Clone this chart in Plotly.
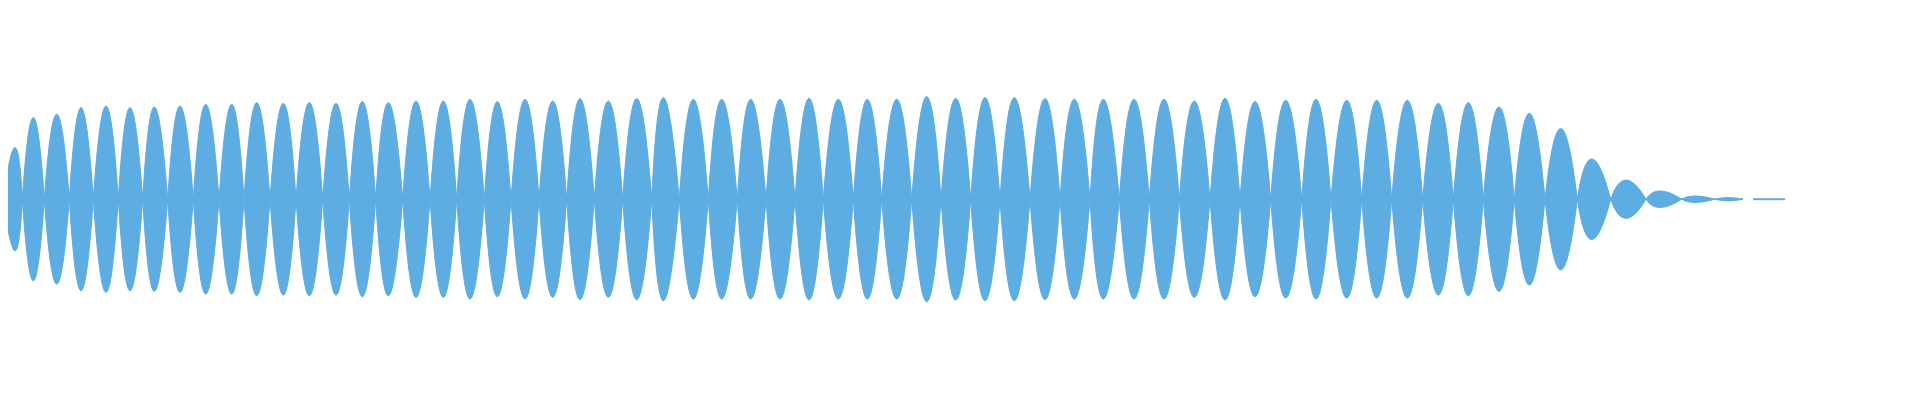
import plotly.graph_objects as go

# zero crossings of the envelope (sample position, px-ish units)
zero_x = [3.3, 22.3, 44.3, 69.3, 93.3, 118.3, 142.7, 167.7, 193.3, 219,
          244, 270, 296, 322.7, 349.3, 375.7, 402.7, 430,
          456.7, 484.3, 511, 539, 566.7, 594.3, 622.7, 651.7,
          679.3, 708.3, 737.3, 766, 795, 823.3, 853.3, 881.7,
          911.7, 941, 970.7, 1000, 1030, 1060, 1090,
          1119.3, 1149.3, 1179.3, 1210, 1240, 1270.7, 1301.7, 1331,
          1361.7, 1391.7, 1422.7, 1453.3, 1483.3, 1514.3, 1545,
          1577.3, 1610.7, 1646, 1681.7, 1715, 1743]

# position of each lobe's peak
peak_x = [15, 33.3, 56.7, 81, 106, 130, 154.3, 180, 205.7,
          231.7, 256.7, 283.3, 309.3, 336, 362.3, 388.3, 416,
          443.3, 470, 497.3, 525, 552.7, 580, 608.3, 636.7,
          663.3, 693.3, 721.7, 750.7, 780, 809, 838.3, 867.3,
          896.7, 926.7, 955.7, 985, 1014.3, 1045, 1074.3,
          1103.3, 1134, 1164, 1194.3, 1225, 1255, 1285.7, 1316,
          1346.7, 1376.7, 1407.3, 1438.3, 1468.3, 1499, 1529.3,
          1560.7, 1591.7, 1626, 1660, 1695, 1728.3]

# peak amplitude of each lobe
peak_amp = [51.7, 81.7, 85, 91.7, 93.3, 91.7, 92.3, 93.3, 95,
            95, 96.7, 96, 96.7, 96, 97.7, 96.7, 98.3,
            98.3, 100, 97.7, 100, 98.3, 100.7, 98.3, 100.7,
            101.7, 100, 100, 100, 100, 101, 100, 100,
            100, 102.7, 101, 101.7, 101.7, 100.7, 100,
            100, 100, 100, 98.3, 101, 97.7, 99, 100,
            99, 99, 99, 96, 96.7, 92.3, 86,
            70.8, 40.3, 19.2, 8.3, 3.3, 1.7]

# near-silent stretches drawn as a flat line
flat_start = [0, 1753]
flat_end = [3.3, 1785]

color = '#5DADE2'

# each lobe is a lens: quadratic curve up to the peak and its mirror below
path = ''
for i in range(len(peak_amp)):
    x0, x1, a = zero_x[i], zero_x[i + 1], peak_amp[i]
    cx = 2 * peak_x[i] - (x0 + x1) / 2
    path += f'M{x0},0 Q{cx},{2 * a} {x1},0 Q{cx},{-2 * a} {x0},0 Z '

fig = go.Figure()

# thin centre line through the pinch points
fig.add_trace(go.Scatter(x=zero_x, y=[0] * len(zero_x), mode='lines',
                         line=dict(color=color, width=1.5), hoverinfo='skip'))

for s, e in zip(flat_start, flat_end):
    fig.add_trace(go.Scatter(x=[s, e], y=[0, 0], mode='lines',
                             line=dict(color=color, width=2), hoverinfo='skip'))

fig.add_shape(type='path', path=path, xref='x', yref='y',
              fillcolor=color, line=dict(color=color, width=1), layer='above')

# page body adds an 8px margin, so ranges are shifted to line up
fig.update_layout(
    width=1920, height=400, showlegend=False,
    margin=dict(l=0, r=0, t=0, b=0),
    paper_bgcolor='white', plot_bgcolor='white',
    xaxis=dict(range=[8, 1928], visible=False),
    yaxis=dict(range=[-208.8, 191.2], visible=False),
)

fig.write_html("out.html")
